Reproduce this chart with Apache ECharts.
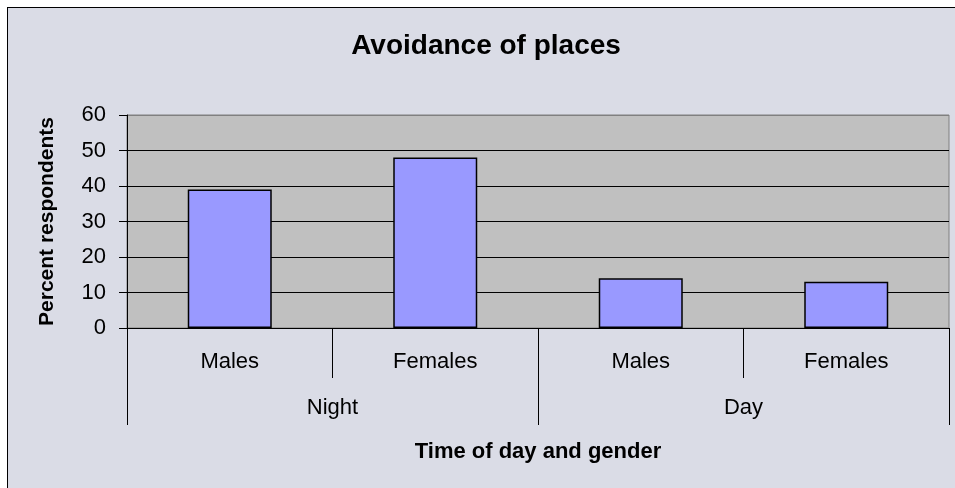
<!DOCTYPE html>
<html>
<head>
<meta charset="utf-8">
<script src="https://cdn.jsdelivr.net/npm/echarts@6/dist/echarts.min.js"></script>
<style>
  html, body { margin: 0; padding: 0; background: #fff; }
  #frame {
    position: absolute; left: 7px; top: 7px; width: 960px; height: 500px;
    background: #dadce6; border-left: 1.5px solid #000; border-top: 1.5px solid #000;
  }
  #chart { position: absolute; left: 0; top: 0; width: 955px; height: 488px; }
</style>
</head>
<body>
<div id="frame"></div>
<div id="chart"></div>
<script>
// categories and values
const genders = ['Males', 'Females', 'Males', 'Females']
const times = ['Night', 'Day']
const percents = [39, 48, 14, 13]
const yTicks = { min: 0, max: 60, interval: 10 }

const font = 'Liberation Sans, Arial, sans-serif'

const chart = echarts.init(document.getElementById('chart'))
chart.setOption({
  backgroundColor: 'transparent',
  animation: false,
  title: {
    text: 'Avoidance of places',
    left: 481,
    textAlign: 'center',
    top: 27,
    textStyle: { fontFamily: font, fontSize: 28, fontWeight: 'bold', color: '#000' }
  },
  grid: {
    left: 127,
    right: 6,
    top: 115,
    bottom: 160,
    show: true,
    backgroundColor: '#c0c0c0',
    borderColor: '#808080',
    borderWidth: 1
  },
  xAxis: [
    {
      type: 'category',
      data: genders,
      position: 'bottom',
      axisLine: { show: true, lineStyle: { color: '#000', width: 1 } },
      axisTick: { show: true, interval: 0, length: 50, lineStyle: { color: '#000' } },
      axisLabel: { interval: 0, margin: 23, color: '#000', fontFamily: font, fontSize: 22 }
    },
    {
      type: 'category',
      data: times,
      position: 'bottom',
      axisLine: { show: false },
      axisTick: { show: true, interval: 0, length: 97, lineStyle: { color: '#000' } },
      axisLabel: { interval: 0, margin: 69, color: '#000', fontFamily: font, fontSize: 22 },
      name: 'Time of day and gender',
      nameLocation: 'middle',
      nameGap: 113,
      nameTextStyle: { fontFamily: font, fontSize: 22, fontWeight: 'bold', color: '#000' }
    }
  ],
  yAxis: {
    type: 'value',
    min: yTicks.min,
    max: yTicks.max,
    interval: yTicks.interval,
    axisLine: { show: true, lineStyle: { color: '#000' } },
    axisTick: { show: true, length: 8, lineStyle: { color: '#000' } },
    axisLabel: { margin: 21, color: '#000', fontFamily: font, fontSize: 22 },
    splitLine: {
      show: true,
      lineStyle: { color: ['#000', '#000', '#000', '#000', '#000', '#000', '#808080'], width: 1 }
    },
    name: 'Percent respondents',
    nameLocation: 'middle',
    nameGap: 69,
    nameTextStyle: { fontFamily: font, fontSize: 21, fontWeight: 'bold', color: '#000' }
  },
  series: [
    {
      type: 'bar',
      xAxisIndex: 0,
      data: percents,
      barWidth: 84,
      itemStyle: { color: '#9999ff', borderColor: '#000', borderWidth: 1.5 }
    }
  ]
})
</script>
</body>
</html>
